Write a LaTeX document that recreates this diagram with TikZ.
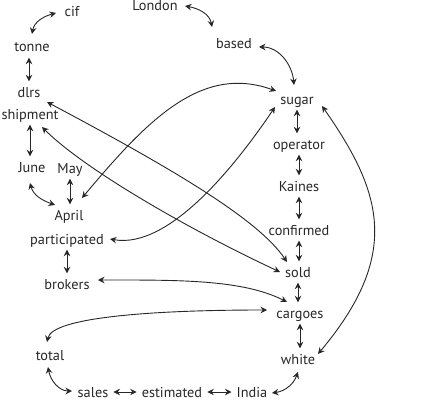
\documentclass[tikz,border=0pt]{standalone}
\usepackage{fontspec}
\setmainfont{PT Sans}
\usetikzlibrary{arrows.meta,calc}
\definecolor{ink}{RGB}{40,38,38}
\tikzset{
  wd/.style={text=ink, inner xsep=5pt, inner ysep=4pt, text height=11.5pt, text depth=1.5pt, font=\fontsize{14.3}{16}\selectfont},
  lnk/.style={draw=ink, line width=0.9pt, >={Stealth[length=6.5pt,width=6.5pt,inset=2.2pt]}, <->}
}
\begin{document}
\begin{tikzpicture}[x=1pt,y=1pt]
\path[use as bounding box] (0,0) rectangle (434,-404);
\node[wd] (cif) at (72,-12) {cif};
\node[wd] (London) at (155,-6) {London};
\node[wd] (tonne) at (32,-47) {tonne};
\node[wd] (based) at (234,-44) {based};
\node[wd] (dlrs) at (29,-92) {dlrs};
\node[wd] (sugar) at (297,-99) {sugar};
\node[wd] (shipment) at (30,-114) {shipment};
\node[wd] (operator) at (299,-144) {operator};
\node[wd] (June) at (32,-167) {June};
\node[wd] (May) at (70,-168) {May};
\node[wd] (Kaines) at (299,-186) {Kaines};
\node[wd] (April) at (69,-215) {April};
\node[wd] (participated) at (67,-239) {participated};
\node[wd] (confirmed) at (299,-230) {confirmed};
\node[wd] (sold) at (298,-272) {sold};
\node[wd] (brokers) at (67,-284) {brokers};
\node[wd] (cargoes) at (300,-313) {cargoes};
\node[wd] (total) at (50,-355) {total};
\node[wd] (white) at (298,-359) {white};
\node[wd] (sales) at (93,-392) {sales};
\node[wd] (estimated) at (172,-392) {estimated};
\node[wd] (India) at (252,-392) {India};

\draw[lnk] ($(cif)+(-16,-1)$) to[out=195,in=80] ($(tonne)+(0,13)$);
\draw[lnk] ($(London)+(30,0)$) to[out=-10,in=100] ($(based)+(-22,17)$);
\draw[lnk] ($(based)+(25,-3)$) to[out=0,in=95] ($(sugar)+(-3,14)$);
\draw[lnk] (tonne.south -| dlrs) -- (dlrs.north);
\draw[lnk] ($(dlrs)+(18,-10)$) .. controls +(-28:150) and +(124:50) .. ($(sold)+(-11,10)$);
\draw[lnk] ($(shipment)+(12,-13)$) .. controls +(-45:60) and +(155:100) .. ($(sold)+(-18,0)$);
\draw[lnk] (shipment.south) -- (shipment.south |- June.north);
\draw[lnk] ($(June)+(-2,-16)$) to[out=-75,in=160] ($(April)+(-14,10)$);
\draw[lnk] (May.south) -- (May.south |- April.north);
\draw[lnk] ($(April)+(13,17)$) .. controls +(50:100) and +(160:80) .. ($(sugar)+(-21,8)$);
\draw[lnk] ($(participated)+(43,0)$) .. controls +(-10:60) and +(236:70) .. ($(sugar)+(-22,-8)$);
\draw[lnk] (participated.south) -- (participated.south |- brokers.north);
\draw[lnk] (sugar.south) -- (sugar.south |- operator.north);
\draw[lnk] (operator.south) -- (operator.south |- Kaines.north);
\draw[lnk] (Kaines.south) -- (Kaines.south |- confirmed.north);
\draw[lnk] (confirmed.south) -- (confirmed.south |- sold.north);
\draw[lnk] (sold.south) -- (sold.south |- cargoes.north);
\draw[lnk] (cargoes.south) -- (cargoes.south |- white.north);
\draw[lnk] ($(sugar)+(25,-7)$) .. controls +(-55:105) and +(50:130) .. ($(white)+(20,5)$);
\draw[lnk] ($(brokers)+(31,4)$) .. controls +(0:80) and +(153:50) .. ($(cargoes)+(-13,11)$);
\draw[lnk] ($(total)+(-3,13)$) .. controls +(78:25) and +(180:117) .. ($(cargoes)+(-33,3)$);
\draw[lnk] ($(total)+(-2,-12)$) to[out=-80,in=180] ($(sales)+(-21,1)$);
\draw[lnk] (sales) -- (estimated);
\draw[lnk] (estimated) -- (India);
\draw[lnk] ($(India)+(20,-1)$) to[out=8,in=-110] ($(white)+(0,-13)$);
\end{tikzpicture}
\end{document}
